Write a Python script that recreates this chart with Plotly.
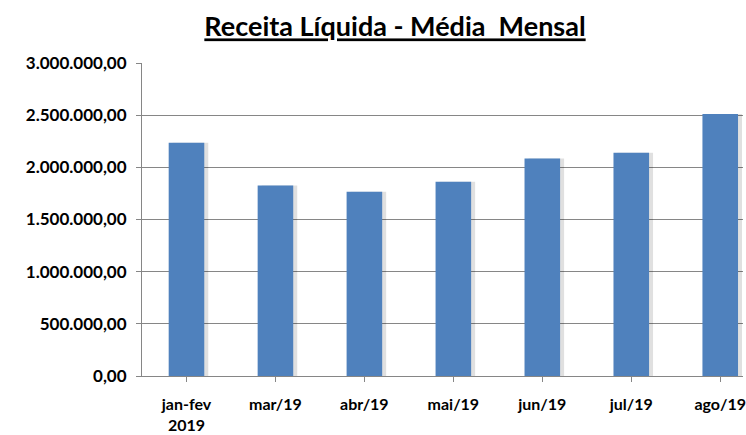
import plotly.graph_objects as go

categories = ["jan-fev<br>2019", "mar/19", "abr/19", "mai/19", "jun/19", "jul/19", "ago/19"]
receita = [2235000, 1825000, 1765000, 1861000, 2085000, 2139000, 2510000]
y_ticks = [0, 500000, 1000000, 1500000, 2000000, 2500000, 3000000]

W, H = 746, 435
left, right, top, bottom = 142, 0, 63, 59

xs = list(range(len(categories)))
fig = go.Figure()
# soft shadow behind bars
fig.add_trace(go.Bar(
    x=xs, y=receita, width=0.4, offset=-0.2 + 0.045,
    marker=dict(color="rgba(0,0,0,0.12)", line=dict(width=0)),
    showlegend=False, hoverinfo="skip",
))
fig.add_trace(go.Bar(
    x=xs, y=receita, width=0.4, offset=-0.2,
    marker=dict(color="#4F81BD", line=dict(width=0)),
    showlegend=False,
))

font_family = "Lato, 'Open Sans', sans-serif"
fig.update_layout(
    width=W, height=H,
    margin=dict(l=left, r=right, t=top, b=bottom, pad=0),
    paper_bgcolor="white", plot_bgcolor="white",
    separators=",.",
    barmode="overlay",
    title=dict(
        text="<b><u>Receita Líquida - Média  Mensal</u></b>",
        x=395 / W, xref="container", xanchor="center",
        y=1 - 27 / H, yref="container", yanchor="middle",
        font=dict(family=font_family, size=27, color="black"),
    ),
    xaxis=dict(
        tickmode="array", tickvals=xs, ticktext=categories,
        range=[-0.5, 6.256], tickson="boundaries",
        ticks="outside", ticklen=5, tickcolor="#868686",
        showline=True, linecolor="#868686", linewidth=1,
        showgrid=False, zeroline=False,
        tickfont=dict(family=font_family, size=16, color="black", weight="bold"),
        ticklabelstandoff=9, ticklabeloverflow="allow",
    ),
    yaxis=dict(
        range=[0, 3000000], tickmode="array", tickvals=y_ticks,
        tickformat=",.2f",
        ticks="outside", ticklen=5, tickcolor="#868686",
        showline=True, linecolor="#868686", linewidth=1,
        showgrid=True, gridcolor="#868686", gridwidth=1,
        zeroline=False,
        tickfont=dict(family=font_family, size=17, color="black", weight="bold"),
        ticklabelstandoff=6,
    ),
)

fig.write_html(
    "out.html",
    config={"displayModeBar": False},
    post_script="document.documentElement.style.margin='0';document.body.style.margin='0';"
                "document.documentElement.style.overflow='hidden';document.body.style.overflow='hidden';",
)
